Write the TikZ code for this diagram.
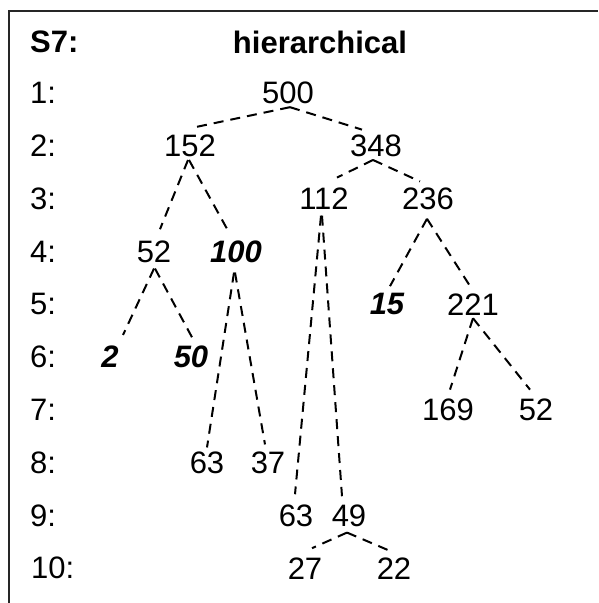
\documentclass[tikz,border=0pt]{standalone}
\usepackage{fontspec}
\setmainfont{Liberation Sans}
\usetikzlibrary{calc}
\begin{document}
\begin{tikzpicture}[x=1pt,y=-1pt,
  num/.style={inner sep=0pt,font=\fontsize{31}{35}\selectfont},
  bnum/.style={num,font=\fontsize{31}{35}\selectfont\bfseries\itshape},
  lab/.style={inner sep=0pt,anchor=west,font=\fontsize{31}{35}\selectfont},
  ttl/.style={inner sep=0pt,font=\fontsize{31}{35}\selectfont\bfseries},
  dl/.style={draw=black,line width=2pt,dash pattern=on 10pt off 7pt}]
\useasboundingbox (0,0) rectangle (598,603);
\draw[line width=2pt,draw=black!85] (9,603) -- (9,11) -- (598,11);
% title
\node[ttl,anchor=west] (s7) at (30,42) {S7:};
\node[ttl] (title) at (320,42) {hierarchical};
% row labels
\node[lab] (l1) at (30,93) {1:};
\node[lab] (l2) at (30,145.8) {2:};
\node[lab] (l3) at (30,198.6) {3:};
\node[lab] (l4) at (30,251.4) {4:};
\node[lab] (l5) at (30,304.2) {5:};
\node[lab] (l6) at (30,357) {6:};
\node[lab] (l7) at (30,409.8) {7:};
\node[lab] (l8) at (30,462.6) {8:};
\node[lab] (l9) at (30,515.4) {9:};
\node[lab] (l10) at (31,568.2) {10:};
% tree nodes
\node[num] (a500) at (288,93) {500};
\node[num] (a152) at (190,145.8) {152};
\node[num] (a348) at (376,145.8) {348};
\node[num] (a112) at (324,198.6) {112};
\node[num] (a236) at (428,198.6) {236};
\node[num] (a52) at (154,251.4) {52};
\node[bnum] (a100) at (236,251.4) {100};
\node[bnum] (a15) at (387,304.2) {15};
\node[num] (a221) at (473,304.2) {221};
\node[bnum] (a2) at (110,357) {2};
\node[bnum] (a50) at (191,357) {50};
\node[num] (a169) at (448,409.8) {169};
\node[num] (a52b) at (536,409.8) {52};
\node[num] (a63) at (207,462.6) {63};
\node[num] (a37) at (268,462.6) {37};
\node[num] (a63b) at (296,515.4) {63};
\node[num] (a49) at (349,515.4) {49};
\node[num] (a27) at (305,568.2) {27};
\node[num] (a22) at (394,568.2) {22};
% edges
\draw[dl] ($(a500.south)+(2,3)$) -- ($(a152.north)+(3,-7)$);
\draw[dl] ($(a500.south)+(2,3)$) -- ($(a348.north)+(-14,-5)$);
\draw[dl] ($(a348.south)+(-3,3)$) -- ($(a112.north)+(13,-10)$);
\draw[dl] ($(a348.south)+(-3,3)$) -- ($(a236.north)+(-8,-6)$);
\draw[dl] ($(a152.south)+(-2,3)$) -- ($(a52.north)+(6,-11)$);
\draw[dl] ($(a152.south)+(-1,3)$) -- ($(a100.north)+(-6,-6)$);
\draw[dl] ($(a52.south)+(0,6)$) -- ($(a2.north)+(13,-11)$);
\draw[dl] ($(a52.south)+(1,6)$) -- ($(a50.north)+(4,-3)$);
\draw[dl] ($(a100.south)+(-2,10)$) -- ($(a63.north)+(0,-4)$);
\draw[dl] ($(a100.south)+(-1,10)$) -- ($(a37.north)+(-3,-7)$);
\draw[dl] ($(a112.south)+(-3,6)$) -- ($(a63b.north)+(-1,-10)$);
\draw[dl] ($(a112.south)+(-2,6)$) -- ($(a49.north)+(-7,-8)$);
\draw[dl] ($(a236.south)+(-1,9)$) -- ($(a15.north)+(3,-7)$);
\draw[dl] ($(a236.south)+(-1,9)$) -- ($(a221.north)+(-1,-4)$);
\draw[dl] ($(a221.south)+(0,3)$) -- ($(a169.north)+(2,-9)$);
\draw[dl] ($(a221.south)+(0,3)$) -- ($(a52b.north)+(-6,-9)$);
\draw[dl] ($(a49.south)+(-2,6)$) -- ($(a27.north)+(7,-9)$);
\draw[dl] ($(a49.south)+(-2,6)$) -- ($(a22.north)+(-1,-5)$);
\end{tikzpicture}
\end{document}
